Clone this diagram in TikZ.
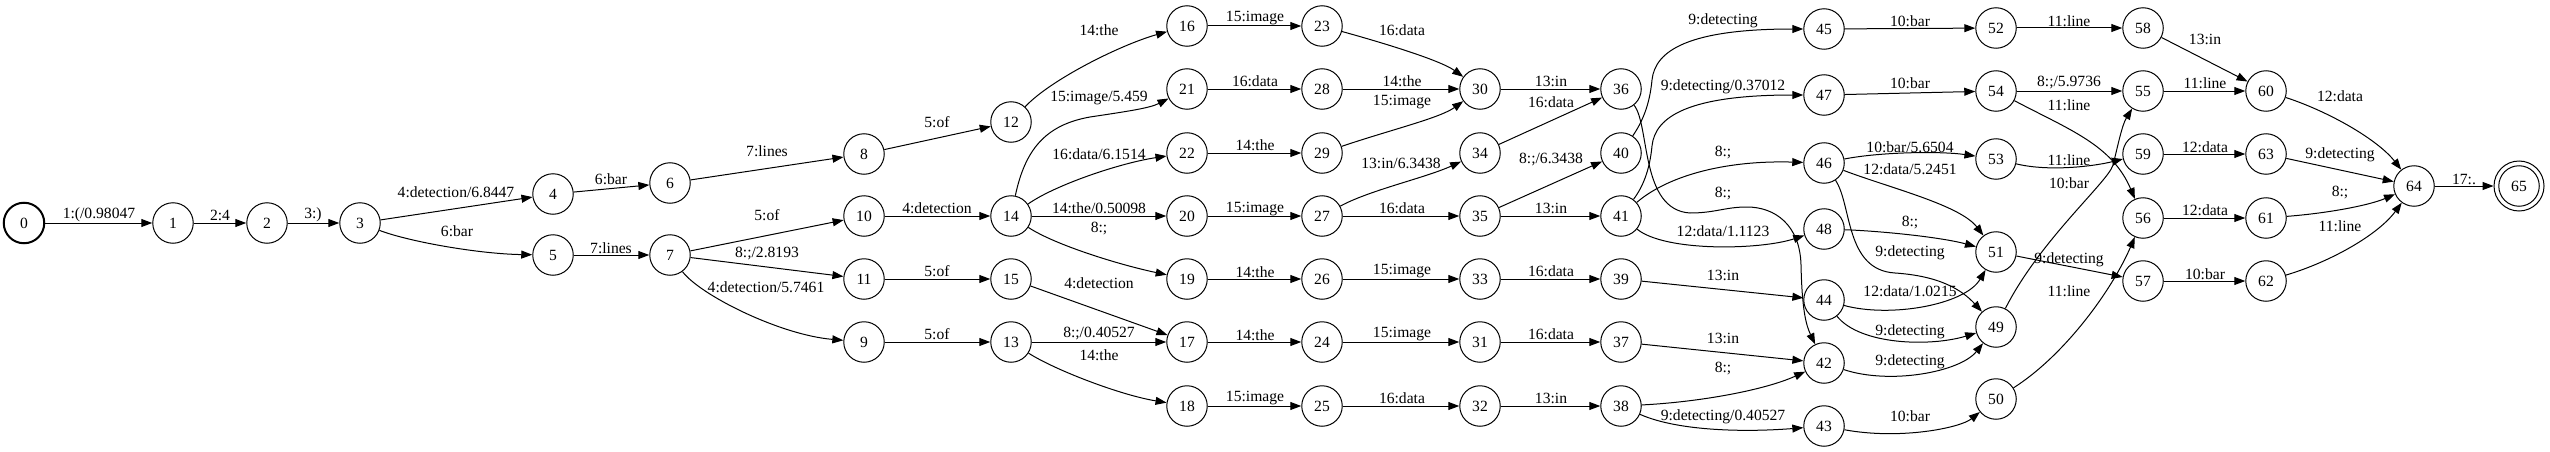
\documentclass[tikz,border=0pt]{standalone}
\usepackage{fontspec}
\setmainfont{Liberation Serif}
\usetikzlibrary{arrows.meta}
\newcommand\elab[3]{\node[lbl] at (#1,#2) {#3};}
\begin{document}
\begin{tikzpicture}[x=1pt,y=-1pt,
  font=\fontsize{15.6}{18}\selectfont,
  st/.style={circle,draw,line width=1pt,minimum size=40.5pt,inner sep=0pt},
  e/.style={draw,line width=1pt,-{Triangle[length=11pt,width=8pt]}},
  lbl/.style={inner sep=0pt}]
\useasboundingbox (0,0) rectangle (2550,452);
% nodes
\node[st,line width=2pt] (n0) at (24,223) {0};
\node[st] (n1) at (173,223) {1};
\node[st] (n2) at (267,223) {2};
\node[st] (n3) at (360,223) {3};
\node[st] (n4) at (553,194) {4};
\node[st] (n5) at (553,255) {5};
\node[st] (n6) at (670,183) {6};
\node[st] (n7) at (670,255) {7};
\node[st] (n8) at (864,154) {8};
\node[st] (n10) at (864,216) {10};
\node[st] (n11) at (864,279) {11};
\node[st] (n9) at (864,342) {9};
\node[st] (n12) at (1011,122) {12};
\node[st] (n14) at (1011,216) {14};
\node[st] (n15) at (1011,279) {15};
\node[st] (n13) at (1011,342) {13};
\node[st] (n16) at (1187,26) {16};
\node[st] (n21) at (1187,89) {21};
\node[st] (n22) at (1187,153) {22};
\node[st] (n20) at (1187,216) {20};
\node[st] (n19) at (1187,279) {19};
\node[st] (n17) at (1187,342) {17};
\node[st] (n18) at (1187,406) {18};
\node[st] (n23) at (1322,26) {23};
\node[st] (n28) at (1322,89) {28};
\node[st] (n29) at (1322,153) {29};
\node[st] (n27) at (1322,216) {27};
\node[st] (n26) at (1322,279) {26};
\node[st] (n24) at (1322,342) {24};
\node[st] (n25) at (1322,406) {25};
\node[st] (n30) at (1480,89) {30};
\node[st] (n34) at (1480,153) {34};
\node[st] (n35) at (1480,216) {35};
\node[st] (n33) at (1480,279) {33};
\node[st] (n31) at (1480,342) {31};
\node[st] (n32) at (1480,406) {32};
\node[st] (n36) at (1621,89) {36};
\node[st] (n40) at (1621,153) {40};
\node[st] (n41) at (1621,216) {41};
\node[st] (n39) at (1621,279) {39};
\node[st] (n37) at (1621,342) {37};
\node[st] (n38) at (1621,406) {38};
\node[st] (n45) at (1824,29) {45};
\node[st] (n47) at (1824,95) {47};
\node[st] (n46) at (1824,163) {46};
\node[st] (n48) at (1824,229) {48};
\node[st] (n44) at (1824,300) {44};
\node[st] (n42) at (1824,363) {42};
\node[st] (n43) at (1824,426) {43};
\node[st] (n52) at (1996,28) {52};
\node[st] (n54) at (1996,91) {54};
\node[st] (n53) at (1996,159) {53};
\node[st] (n51) at (1996,252) {51};
\node[st] (n49) at (1996,327) {49};
\node[st] (n50) at (1996,399) {50};
\node[st] (n58) at (2143,28) {58};
\node[st] (n55) at (2143,91) {55};
\node[st] (n59) at (2143,154) {59};
\node[st] (n56) at (2143,218) {56};
\node[st] (n57) at (2143,281) {57};
\node[st] (n60) at (2266,91) {60};
\node[st] (n63) at (2266,154) {63};
\node[st] (n61) at (2266,218) {61};
\node[st] (n62) at (2266,281) {62};
\node[st] (n64) at (2414,186) {64};
\node[st,minimum size=50pt] (n65) at (2519,186) {65};
\draw[line width=1pt] (n65.center) circle[radius=20.25pt];
% straight edges
\draw[e] (n0) -- (n1);
\draw[e] (n1) -- (n2);
\draw[e] (n2) -- (n3);
\draw[e] (n3) -- (n4);
\draw[e] (n4) -- (n6);
\draw[e] (n6) -- (n8);
\draw[e] (n5) -- (n7);
\draw[e] (n7) -- (n10);
\draw[e] (n7) -- (n11);
\draw[e] (n8) -- (n12);
\draw[e] (n10) -- (n14);
\draw[e] (n11) -- (n15);
\draw[e] (n9) -- (n13);
\draw[e] (n14) -- (n20);
\draw[e] (n13) -- (n17);
\draw[e] (n15) -- (n17);
\draw[e] (n16) -- (n23);
\draw[e] (n21) -- (n28);
\draw[e] (n22) -- (n29);
\draw[e] (n20) -- (n27);
\draw[e] (n19) -- (n26);
\draw[e] (n17) -- (n24);
\draw[e] (n18) -- (n25);
\draw[e] (n28) -- (n30);
\draw[e] (n27) -- (n35);
\draw[e] (n26) -- (n33);
\draw[e] (n24) -- (n31);
\draw[e] (n25) -- (n32);
\draw[e] (n30) -- (n36);
\draw[e] (n34) -- (n36);
\draw[e] (n35) -- (n40);
\draw[e] (n35) -- (n41);
\draw[e] (n33) -- (n39);
\draw[e] (n31) -- (n37);
\draw[e] (n32) -- (n38);
\draw[e] (n39) -- (n44);
\draw[e] (n37) -- (n42);
\draw[e] (n45) -- (n52);
\draw[e] (n47) -- (n54);
\draw[e] (n52) -- (n58);
\draw[e] (n54) -- (n55);
\draw[e] (n55) -- (n60);
\draw[e] (n58) -- (n60);
\draw[e] (n59) -- (n63);
\draw[e] (n56) -- (n61);
\draw[e] (n57) -- (n62);
\draw[e] (n63) -- (n64);
\draw[e] (n64) -- (n65);
\draw[e] (n51) -- (n57);
% curved edges
\draw[e] (n3) .. controls (410,242) and (480,254) .. (n5);
\draw[e] (n7) .. controls (700,295) and (780,335) .. (n9);
\draw[e] (n12) .. controls (1050,80) and (1120,45) .. (n16);
\draw[e] (n14) .. controls (1025,150) and (1045,125) .. (1090,117) .. controls (1130,111) and (1150,108) .. (n21);
\draw[e] (n14) .. controls (1055,185) and (1120,163) .. (n22);
\draw[e] (n14) .. controls (1055,245) and (1120,265) .. (n19);
\draw[e] (n13) .. controls (1055,370) and (1120,395) .. (n18);
\draw[e] (n23) .. controls (1380,42) and (1440,60) .. (n30);
\draw[e] (n29) .. controls (1390,130) and (1440,118) .. (n30);
\draw[e] (n27) .. controls (1370,190) and (1425,178) .. (n34);
\draw[e] (n40) .. controls (1645,118) and (1650,100) .. (1652,80) .. controls (1655,50) and (1690,29) .. (n45);
\draw[e] (n41) .. controls (1645,184) and (1650,166) .. (1652,146) .. controls (1655,116) and (1690,95) .. (n47);
\draw[e] (n41) .. controls (1665,178) and (1720,160) .. (n46);
\draw[e] (n36) .. controls (1650,125) and (1640,210) .. (1690,213) .. controls (1715,213) and (1725,207) .. (1747,207) .. controls (1775,207) and (1800,225) .. (1801,265) .. controls (1802,310) and (1806,325) .. (n42);
\draw[e] (n41) .. controls (1665,252) and (1760,250) .. (n48);
\draw[e] (n38) .. controls (1700,402) and (1765,390) .. (n42);
\draw[e] (n38) .. controls (1680,432) and (1750,432) .. (n43);
\draw[e] (n46) .. controls (1880,152) and (1940,151) .. (n53);
\draw[e] (n46) .. controls (1890,188) and (1960,205) .. (n51);
\draw[e] (n46) .. controls (1852,205) and (1845,270) .. (1895,273) .. controls (1940,276) and (1962,290) .. (n49);
\draw[e] (n48) .. controls (1880,231) and (1940,237) .. (n51);
\draw[e] (n44) .. controls (1890,318) and (1965,305) .. (n51);
\draw[e] (n44) .. controls (1860,345) and (1930,347) .. (n49);
\draw[e] (n42) .. controls (1890,385) and (1960,372) .. (n49);
\draw[e] (n43) .. controls (1900,440) and (1960,428) .. (n50);
\draw[e] (n49) .. controls (2040,240) and (2108,182) .. (2113,165) .. controls (2118,145) and (2122,125) .. (n55);
\draw[e] (n54) .. controls (2070,130) and (2112,145) .. (n56);
\draw[e] (n53) .. controls (2050,172) and (2095,166) .. (n59);
\draw[e] (n50) .. controls (2065,355) and (2112,290) .. (n56);
\draw[e] (n60) .. controls (2330,112) and (2378,140) .. (n64);
\draw[e] (n61) .. controls (2330,213) and (2370,205) .. (n64);
\draw[e] (n62) .. controls (2330,262) and (2378,235) .. (n64);
% labels
\elab{99}{215}{1:(/0.98047}
\elab{220}{215}{2:4}
\elab{313}{215}{3:)}
\elab{456}{192}{4:detection/6.8447}
\elab{457}{231}{6:bar}
\elab{611}{179}{6:bar}
\elab{767}{151}{7:lines}
\elab{611}{248}{7:lines}
\elab{767}{215}{5:of}
\elab{767}{254}{8:;/2.8193}
\elab{766}{287}{4:detection/5.7461}
\elab{937}{122}{5:of}
\elab{1099}{30}{14:the}
\elab{1099}{98}{15:image/5.459}
\elab{1099}{154}{16:data/6.1514}
\elab{1099}{208}{14:the/0.50098}
\elab{1099}{229}{8:;}
\elab{937}{208}{4:detection}
\elab{937}{271}{5:of}
\elab{1099}{283}{4:detection}
\elab{937}{334}{5:of}
\elab{1099}{334}{8:;/0.40527}
\elab{1099}{355}{14:the}
\elab{1255}{18}{15:image}
\elab{1255}{81}{16:data}
\elab{1255}{145}{14:the}
\elab{1255}{209}{15:image}
\elab{1255}{272}{14:the}
\elab{1255}{335}{14:the}
\elab{1255}{398}{15:image}
\elab{1402}{30}{16:data}
\elab{1402}{81}{14:the}
\elab{1402}{102}{15:image}
\elab{1401}{163}{13:in/6.3438}
\elab{1402}{208}{16:data}
\elab{1402}{271}{15:image}
\elab{1402}{334}{15:image}
\elab{1402}{398}{16:data}
\elab{1551}{81}{13:in}
\elab{1551}{102}{16:data}
\elab{1551}{160}{8:;/6.3438}
\elab{1551}{208}{13:in}
\elab{1551}{271}{16:data}
\elab{1551}{334}{16:data}
\elab{1551}{398}{13:in}
\elab{1723}{21}{9:detecting}
\elab{1723}{87}{9:detecting/0.37012}
\elab{1723}{153}{8:;}
\elab{1723}{194}{8:;}
\elab{1723}{231}{12:data/1.1123}
\elab{1723}{275}{13:in}
\elab{1723}{338}{13:in}
\elab{1723}{369}{8:;}
\elab{1723}{417}{9:detecting/0.40527}
\elab{1910}{21}{10:bar}
\elab{1910}{83}{10:bar}
\elab{1910}{147}{10:bar/5.6504}
\elab{1910}{169}{12:data/5.2451}
\elab{1910}{223}{8:;}
\elab{1910}{253}{9:detecting}
\elab{1910}{291}{12:data/1.0215}
\elab{1910}{332}{9:detecting}
\elab{1910}{362}{9:detecting}
\elab{1910}{416}{10:bar}
\elab{2069}{21}{11:line}
\elab{2069}{83}{8:;/5.9736}
\elab{2069}{105}{11:line}
\elab{2069}{160}{11:line}
\elab{2069}{183}{10:bar}
\elab{2069}{260}{9:detecting}
\elab{2069}{291}{11:line}
\elab{2205}{39}{13:in}
\elab{2205}{83}{11:line}
\elab{2205}{147}{12:data}
\elab{2205}{210}{12:data}
\elab{2205}{274}{10:bar}
\elab{2340}{96}{12:data}
\elab{2340}{155}{9:detecting}
\elab{2340}{193}{8:;}
\elab{2340}{226}{11:line}
\elab{2464}{179}{17:.}
\end{tikzpicture}
\end{document}
